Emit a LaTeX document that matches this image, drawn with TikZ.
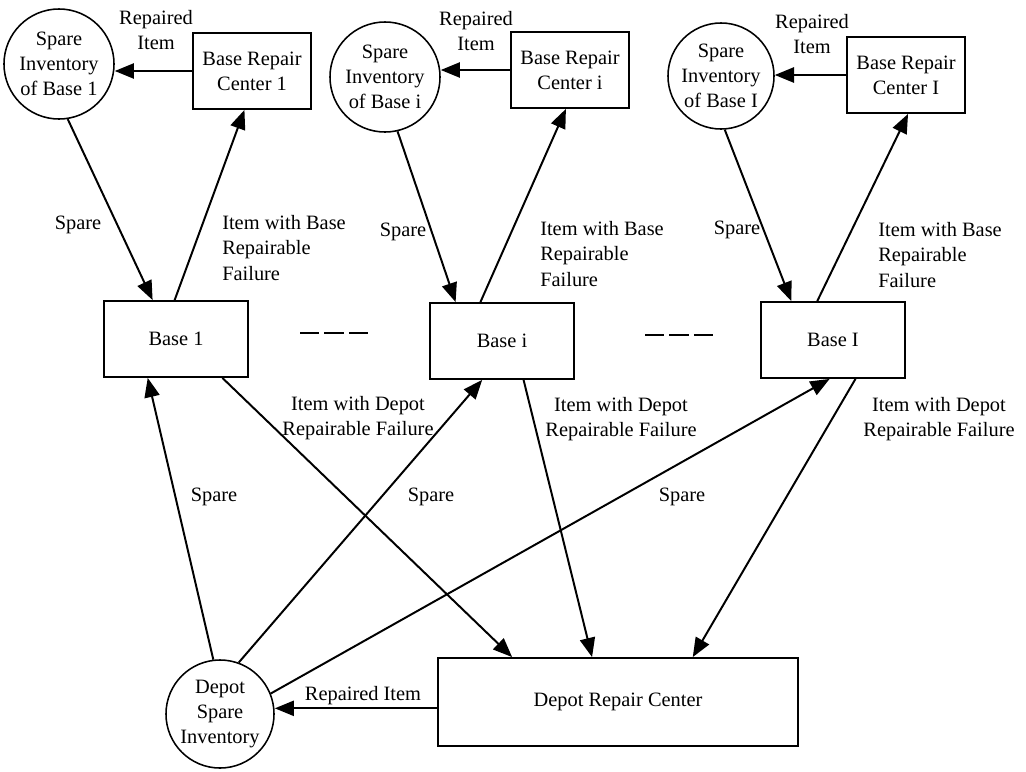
\documentclass[tikz,border=0pt]{standalone}
\usepackage{fontspec}
\setmainfont{Liberation Serif}
\usetikzlibrary{arrows.meta}

\begin{document}
\begin{tikzpicture}[x=0.025cm,y=-0.025cm,>={Triangle[length=0.48cm,width=0.38cm]},
every node/.style={font=\fontsize{14.5pt}{17.8pt}\selectfont},
inv/.style={draw,circle,line width=1.1pt,inner sep=0pt,minimum size=2.75cm,align=center},
ctr/.style={draw,rectangle,line width=1.3pt,minimum width=2.95cm,minimum height=1.9cm,align=center},
base/.style={ctr,minimum width=3.6cm},
flow/.style={->,line width=1.4pt},
lbl/.style={align=center,inner sep=0pt}]
\useasboundingbox (0,0) rectangle (1026,771);
% inventories and repair centers of the bases
\node[inv] (c1) at (59,64) {Spare\\Inventory\\of Base 1};
\node[inv] (ci) at (385,77) {Spare\\Inventory\\of Base i};
\node[inv,minimum size=2.65cm] (cI) at (721,76) {Spare\\Inventory\\of Base I};
\node[ctr] (br1) at (252,71) {Base Repair\\Center 1};
\node[ctr] (bri) at (570,70) {Base Repair\\Center i};
\node[ctr] (brI) at (906,75) {Base Repair\\Center I};
% bases
\node[base] (b1) at (176,339) {Base 1};
\node[base] (bi) at (502,341) {Base i};
\node[base] (bI) at (833,340) {Base I};
\draw[line width=2pt,dash pattern=on 0.48cm off 0.13cm](300,333)--(368,333)
(645,335)--(713,335);
% depot
\node[inv,minimum size=2.7cm] (ds) at (220,714) {Depot\\Spare\\Inventory};
\node[ctr,minimum width=9cm,minimum height=2.2cm] (dr) at (618,702) {Depot Repair Center};
% labels
\node[lbl] (r1) at (156,30) {Repaired\\Item};
\node[lbl] (ri) at (476,31) {Repaired\\Item};
\node[lbl] (rI) at (812,34) {Repaired\\Item};
\node[lbl] (s1) at (78,225) {Spare};
\node[lbl] (si) at (403,232) {Spare};
\node[lbl] (sI) at (737,230) {Spare};
\node[lbl,align=left,anchor=west] (f1) at (222,248) {Item with Base\\Repairable\\Failure};
\node[lbl,align=left,anchor=west] (fi) at (540,254) {Item with Base\\Repairable\\Failure};
\node[lbl,align=left,anchor=west] (fI) at (878,255) {Item with Base\\Repairable\\Failure};
\node[lbl] (d1) at (358,418) {Item with Depot\\Repairable Failure};
\node[lbl] (di) at (621,419) {Item with Depot\\Repairable Failure};
\node[lbl] (dI) at (939,419) {Item with Depot\\Repairable Failure};
\node[lbl] (p1) at (214,497) {Spare};
\node[lbl] (pi) at (431,497) {Spare};
\node[lbl] (pI) at (682,497) {Spare};
\node[lbl] (rd) at (363,696) {Repaired Item};
% flows at the bases
\draw[flow] (br1.west) -- (br1.west -| c1.east);
\draw[flow] (c1.-81) -- (b1.121);
\draw[flow] (b1.92) -- (br1.259);
\draw[flow] (bri.west) -- (bri.west -| ci.east);
\draw[flow] (ci.-77) -- (bi.140);
\draw[flow] (bi.119) -- (bri.264);
\draw[flow] (brI.west) -- (brI.west -| cI.east);
\draw[flow] (cI.-86) -- (bI.137);
\draw[flow] (bI.112) -- (brI.-87);
% flows to and from the depot
\draw[flow] (ds.97) -- (b1.234);
\draw[flow] (ds.70) -- (bi.243);
\draw[flow] (ds.22) -- (bI.265);
\draw[flow] (b1.-40) -- (dr.157);
\draw[flow] (bi.-61) -- (dr.120);
\draw[flow] (bI.-60) -- (dr.31);
\draw[flow] (dr.182) -- (dr.182 -| ds.east);
\end{tikzpicture}
\end{document}
